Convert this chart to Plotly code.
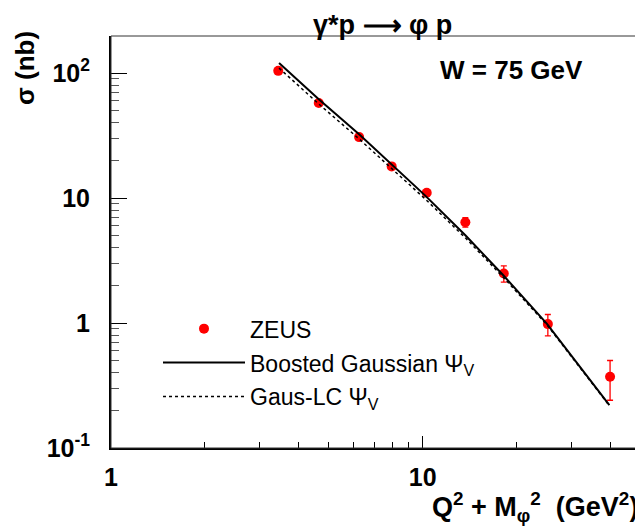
import plotly.graph_objects as go

# ZEUS data: Q^2 + M_phi^2 (GeV^2), sigma (nb), error (nb)
zeus_x = [3.44, 4.64, 6.25, 7.95, 10.3, 13.7, 18.2, 25.2, 39.9]
zeus_y = [104.0, 57.5, 30.7, 17.9, 11.0, 6.40, 2.49, 0.98, 0.371]
zeus_err = [3.0, 1.5, 0.8, 0.5, 0.35, 0.55, 0.37, 0.19, 0.13]

# model curves
model_x = [3.46, 4.64, 6.25, 7.24, 10.17, 13.7, 18.1, 25.0, 39.7]
bg_sigma = [120.0, 61.7, 32.3, 22.9, 10.5, 5.03, 2.42, 0.99, 0.220]
lc_sigma = [109.5, 56.5, 29.7, 21.2, 9.85, 4.80, 2.33, 0.97, 0.218]

x_major = [10]
x_minor = [2, 3, 4, 5, 6, 7, 8, 9, 20, 30, 40]
x_ticktext = ["<b>1</b>", "<b>10</b>"]
y_major = [0.1, 1, 10, 100]
y_ticktext = ["<b>10<sup>-1</sup></b>", "<b>1</b>", "<b>10</b>", "<b>10<sup>2</sup></b>"]
y_minor = [0.2, 0.3, 0.4, 0.5, 0.6, 0.7, 0.8, 0.9,
           2, 3, 4, 5, 6, 7, 8, 9,
           20, 30, 40, 50, 60, 70, 80, 90]

FONT = "Liberation Sans"

fig = go.Figure()
fig.add_trace(go.Scatter(
    x=zeus_x, y=zeus_y, mode="markers", name="ZEUS", legendgroup="a",
    marker=dict(color="#ff0000", size=10, symbol="circle"),
    error_y=dict(type="data", array=zeus_err, color="#ff0000", thickness=1.3, width=3),
))
fig.add_trace(go.Scatter(
    x=model_x, y=bg_sigma, mode="lines", name="Boosted Gaussian Ψ<sub>V</sub>",
    legendgroup="b", line=dict(color="black", width=2),
))
fig.add_trace(go.Scatter(
    x=model_x, y=lc_sigma, mode="lines", name="Gaus-LC Ψ<sub>V</sub>",
    legendgroup="c", line=dict(color="black", width=1.5, dash="3px,3px"),
))

# page has an 8px body margin; work in page pixel coordinates
OFF = 8
W, H = 643 - OFF, 528 - OFF
FL, FR, FT, FB = 111, 640, 36, 447.7   # frame edges in page pixels
L, R, T, B = FL - OFF, W + OFF - FR, FT - OFF, H + OFF - FB
pw, ph = W - L - R, H - T - B

def px(xp):
    return (xp - FL) / pw
def py(yp):
    return (FB - yp) / ph

fig.update_layout(
    width=W, height=H,
    margin=dict(l=L, r=R, t=T, b=B),
    paper_bgcolor="white", plot_bgcolor="white",
    font=dict(family=FONT, color="black"),
    showlegend=True,
    legend=dict(
        x=px(158), y=py(307),
        xanchor="left", yanchor="top",
        bgcolor="rgba(0,0,0,0)", borderwidth=0,
        font=dict(family=FONT, size=23, color="black"),
        itemwidth=82, tracegroupgap=1, traceorder="grouped",
    ),
    xaxis=dict(
        type="log", range=[0, 1.697],
        showgrid=False, zeroline=False,
        showline=True, linecolor="black", linewidth=2, mirror=False,
        tickmode="array", tickvals=[1] + x_major, ticktext=x_ticktext,
        ticks="inside", ticklen=12, tickwidth=1, tickcolor="black",
        ticklabelstandoff=6,
        tickfont=dict(family=FONT, size=25, color="black"),
        minor=dict(tickvals=x_minor, ticks="inside", ticklen=6, tickwidth=1, tickcolor="black"),
    ),
    yaxis=dict(
        type="log", range=[-1, 2.296],
        showgrid=False, zeroline=False,
        showline=True, linecolor="black", linewidth=2, mirror=False,
        tickmode="array", tickvals=y_major, ticktext=y_ticktext,
        ticks="inside", ticklen=16, tickwidth=1, tickcolor="black",
        ticklabelstandoff=14,
        tickfont=dict(family=FONT, size=25, color="black"),
        minor=dict(tickvals=y_minor, ticks="inside", ticklen=8, tickwidth=1, tickcolor="#555555"),
    ),
    shapes=[dict(type="rect", xref="paper", yref="paper", x0=0, x1=1, y0=0, y1=1,
                 line=dict(color="#333333", width=1), fillcolor="rgba(0,0,0,0)")],
)

fig.add_annotation(text="<b>γ*p ⟶ φ p</b>", xref="paper", yref="paper",
                   x=px(382), y=py(8.5), xanchor="center", yanchor="top",
                   showarrow=False, font=dict(family=FONT, size=27, color="black"))
fig.add_annotation(text="<b>W = 75 GeV</b>", xref="paper", yref="paper",
                   x=px(511), y=py(70), xanchor="center", yanchor="middle",
                   showarrow=False, font=dict(family=FONT, size=26, color="black"))
fig.add_annotation(text="<b>σ (nb)</b>", xref="paper", yref="paper",
                   x=px(25), y=py(68), xanchor="center", yanchor="middle", textangle=-90,
                   showarrow=False, font=dict(family=FONT, size=26, color="black"))
fig.add_annotation(text="<b>Q<sup>2</sup> + M<sub>φ</sub><sup>2</sup>  (GeV<sup>2</sup>)</b>",
                   xref="paper", yref="paper",
                   x=px(640), y=py(527.5), xanchor="right", yanchor="bottom",
                   showarrow=False, font=dict(family=FONT, size=27, color="black"))

fig.write_html("out.html")
